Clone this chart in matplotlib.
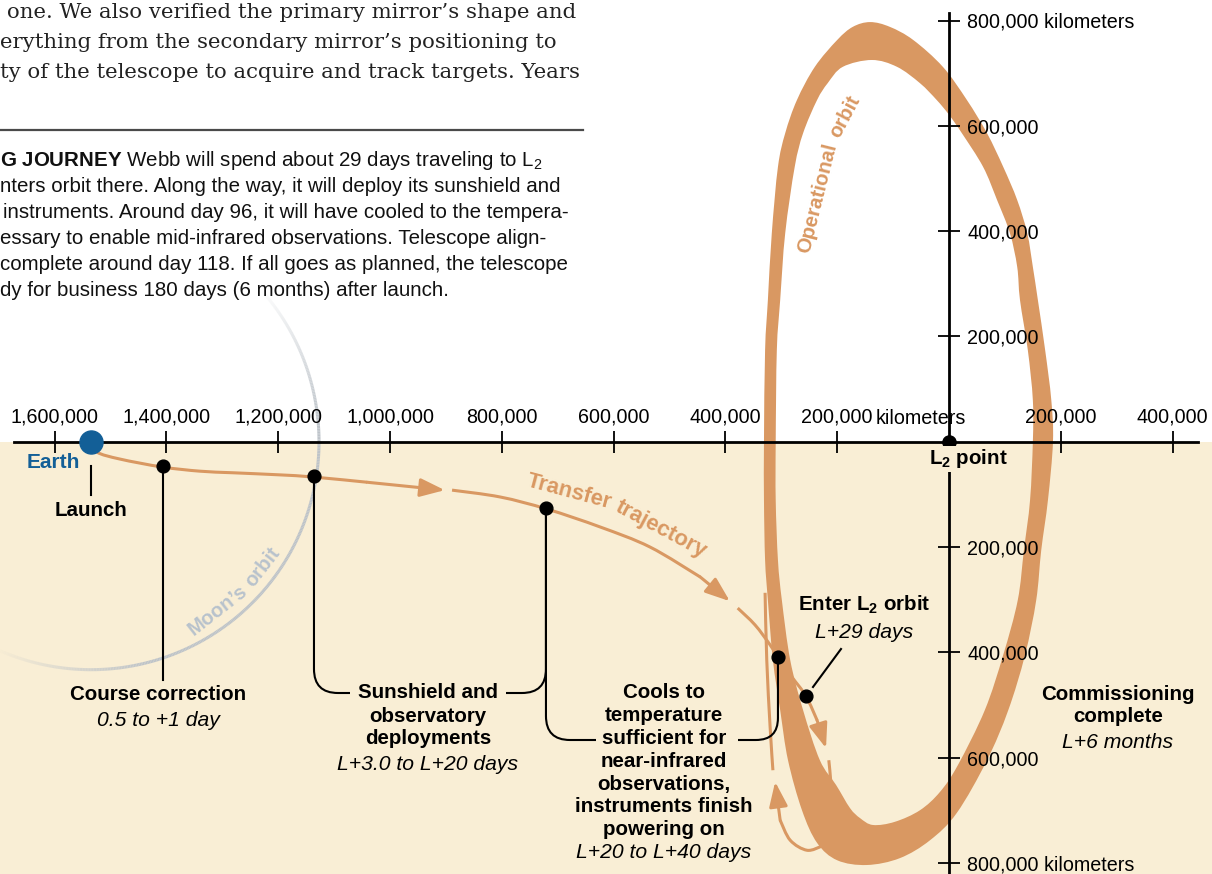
import numpy as np
import matplotlib.pyplot as plt
from matplotlib.path import Path
from matplotlib.patches import PathPatch
from matplotlib.collections import LineCollection
from matplotlib.lines import Line2D

plt.rcParams['font.family'] = ['Liberation Sans', 'DejaVu Sans']
plt.rcParams['mathtext.fontset'] = 'custom'
plt.rcParams['mathtext.rm'] = 'Liberation Sans'
plt.rcParams['mathtext.it'] = 'Liberation Sans:italic'
plt.rcParams['mathtext.bf'] = 'Liberation Sans:bold'
plt.rcParams['mathtext.default'] = 'regular'

# ---- data (thousands of km from L2; x negative towards Earth, y up) ----
x_ticks = [-1600, -1400, -1200, -1000, -800, -600, -400, -200, 200, 400]
x_tick_labels = ['1,600,000', '1,400,000', '1,200,000', '1,000,000', '800,000',
                 '600,000', '400,000', '200,000', '200,000', '400,000']
y_ticks = [800, 600, 400, 200, -200, -400, -600, -800]
y_tick_labels = ['800,000 kilometers', '600,000', '400,000', '200,000',
                 '200,000', '400,000', '600,000', '800,000 kilometers']

earth_x = -1535
moon_orbit_rx = 408
moon_orbit_ry = 433

# operational orbit band (outer and inner edge)
orbit_outer_x = [-141, -106, -64, -11, 32, 68, 97, 122, 140, 150, 159, 172, 183, 186,
                 177, 165, 156, 136, 106, 68, 14, -34, -88, -147, -200, -236, -263,
                 -288, -302, -315, -324, -329, -331, -331, -329, -324, -317, -306,
                 -293, -272, -240, -200, -172]
orbit_outer_y = [797, 788, 763, 712, 649, 586, 522, 459, 396, 332, 269, 174, 79, 0,
                 -111, -206, -301, -405, -510, -605, -705, -757, -791, -804, -795,
                 -762, -700, -605, -510, -415, -301, -225, -111, 0, 174, 269, 396,
                 522, 586, 649, 712, 763, 788]
orbit_inner_x = [-138, -93, -52, -22, 0, 23, 61, 86, 109, 122, 127, 141, 150, 150,
                 145, 134, 123, 97, 64, 16, -16, -52, -97, -136, -159, -177, -202,
                 -231, -261, -284, -299, -306, -310, -310, -308, -302, -293, -276,
                 -261, -236, -217, -190]
orbit_inner_y = [725, 712, 681, 649, 621, 586, 522, 459, 396, 332, 269, 174, 79, 0,
                 -111, -206, -301, -405, -510, -614, -665, -700, -722, -728, -715,
                 -696, -652, -605, -510, -415, -301, -225, -111, 0, 174, 269, 396,
                 522, 586, 649, 681, 712]

# transfer trajectory, in pieces (broken at each arrowhead)
traj1_x = [-1535, -1524, -1483, -1408, -1340, -1281, -1197, -1138, -1041, -902]
traj1_y = [-1, -20, -33, -48, -56, -59, -63, -67, -77, -92]
traj2_x = [-889, -803, -719, -624, -535, -445, -392]
traj2_y = [-92, -105, -128, -162, -200, -257, -303]
traj3_x = [-378, -347, -320, -306, -281, -256, -236, -220]
traj3_y = [-316, -348, -386, -409, -447, -483, -529, -582]
traj4_x = [-215, -211, -209]
traj4_y = [-605, -652, -703]
traj5_x = [-227, -254, -284, -302, -311]
traj5_y = [-768, -776, -757, -719, -646]
traj6_x = [-315, -320, -326, -329]
traj6_y = [-624, -542, -415, -287]

# milestone dots on the trajectory
event_x = [-1406, -1136, -721, -306, -256]
event_y = [-46, -65, -126, -409, -483]

ORANGE = '#d99862'
BEIGE = '#f9eed5'
BLUE = '#135f97'

W, H = 1212, 874
L2_PX, L2_PY = 949, 441.7
SX, SY = 111.8 / 200, 105.3 / 200   # pixels per thousand km


def dp(px, py):
    return (px - L2_PX) / SX, (L2_PY - py) / SY


def fx(px):
    return px / W


def fy(py):
    return 1 - py / H


def smooth(xs, ys, closed=False):
    # smooth bezier path through the given points
    P = np.column_stack([xs, ys]).astype(float)
    n = len(P)
    if closed:
        get = lambda i: P[i % n]
        rng = range(n)
    else:
        get = lambda i: P[min(max(i, 0), n - 1)]
        rng = range(n - 1)
    verts, codes = [P[0]], [Path.MOVETO]
    for i in rng:
        p0, p1, p2, p3 = get(i - 1), get(i), get(i + 1), get(i + 2)
        verts += [p1 + (p2 - p0) / 6, p2 - (p3 - p1) / 6, p2]
        codes += [Path.CURVE4] * 3
    return verts, codes


fig = plt.figure(figsize=(W / 100, H / 100), dpi=100)
ax = fig.add_axes([0, 0, 1, 1])
ax.set_xlim(-L2_PX / SX, (W - L2_PX) / SX)
ax.set_ylim(-(H - L2_PY) / SY, L2_PY / SY)

# beige lower half
ax.axhspan(-(H - L2_PY) / SY, 0, color=BEIGE, zorder=0, lw=0)

# axes through L2
ax.set_axisbelow(False)
for s in ['left', 'bottom']:
    ax.spines[s].set_visible(False)
ax.spines['top'].set_position(('data', 0))
ax.spines['right'].set_position(('data', 0))
ax.spines['top'].set_bounds(dp(14, 0)[0], dp(1198, 0)[0])
ax.spines['right'].set_bounds(dp(0, H)[1], dp(0, 13)[1])
for s in ['top', 'right']:
    ax.spines[s].set_linewidth(2.0)
    ax.spines[s].set_zorder(4)
ax.xaxis.set_ticks_position('top')
ax.yaxis.set_ticks_position('right')
ax.set_xticks(x_ticks, x_tick_labels)
ax.set_yticks(y_ticks, y_tick_labels)
ax.tick_params(axis='both', direction='inout', length=16, width=1.3,
               labelsize=14.2, colors='black')
ax.tick_params(axis='x', pad=3)
ax.tick_params(axis='y', pad=5)
fig.text(fx(876), fy(418), 'kilometers', fontsize=14.2, ha='left', va='center')

# operational orbit band
v_out, c_out = smooth(orbit_outer_x, orbit_outer_y, closed=True)
v_in, c_in = smooth(orbit_inner_x[::-1], orbit_inner_y[::-1], closed=True)
ax.add_patch(PathPatch(Path(v_out + v_in, c_out + c_in), facecolor=ORANGE,
                       edgecolor='none', zorder=1))

# moon's orbit, fading at both ends
deg = np.linspace(42, -114, 400)
t = np.radians(deg)
mx = earth_x + moon_orbit_rx * np.cos(t)
my = moon_orbit_ry * np.sin(t)
pts = np.column_stack([mx, my]).reshape(-1, 1, 2)
segs = np.concatenate([pts[:-1], pts[1:]], axis=1)
alpha = np.interp(deg[:-1], [-114, -75, 5, 42], [0, 1, 1, 0])
cols = np.zeros((len(segs), 4))
cols[:, :3] = [0.74, 0.765, 0.79]
cols[:, 3] = alpha
ax.add_collection(LineCollection(segs, colors=cols, linewidths=2.2, zorder=2))

# transfer trajectory
pieces = [(traj1_x, traj1_y, True), (traj2_x, traj2_y, True), (traj3_x, traj3_y, True),
          (traj4_x, traj4_y, False), (traj5_x, traj5_y, True), (traj6_x, traj6_y, False)]
for xs, ys, arrow in pieces:
    body_x, body_y = (xs[:-1], ys[:-1]) if arrow else (xs, ys)
    v, c = smooth(body_x, body_y)
    ax.add_patch(PathPatch(Path(v, c), facecolor='none', edgecolor=ORANGE, lw=2.2,
                           capstyle='butt', zorder=3))
    if arrow:
        ax.annotate('', xy=(xs[-1], ys[-1]), xytext=(xs[-2], ys[-2]), zorder=3,
                    arrowprops=dict(arrowstyle='-|>,head_length=0.75,head_width=0.28',
                                    color=ORANGE, lw=2.2, shrinkA=0, shrinkB=0,
                                    mutation_scale=20))


# leader lines
def elbow(x, y0_px, bend_px, end_px, r=24):
    px = L2_PX + x * SX
    d = 1 if end_px > px else -1
    v = [(px, y0_px), (px, bend_px - r), (px, bend_px), (px + d * r, bend_px), (end_px, bend_px)]
    v = [dp(a, b) for a, b in v]
    c = [Path.MOVETO, Path.LINETO, Path.CURVE3, Path.CURVE3, Path.LINETO]
    ax.add_patch(PathPatch(Path(v, c), facecolor='none', edgecolor='black', lw=1.5, zorder=4))


ey_px = [L2_PY - y * SY for y in event_y]
ax.plot([event_x[0]] * 2, [event_y[0], dp(0, 680)[1]], color='black', lw=1.5, zorder=4)
elbow(event_x[1], ey_px[1], 693, 350)
elbow(event_x[2], ey_px[2], 693, 506)
elbow(event_x[2], ey_px[2], 740, 596)
elbow(event_x[3], ey_px[3], 740, 738, r=22)
ax.plot(*zip(dp(813, 687), dp(841, 649)), color='black', lw=1.5, zorder=4)
ax.plot(*zip(dp(91, 466), dp(91, 495)), color='black', lw=1.5, zorder=4)

ax.plot(event_x, event_y, 'o', color='black', ms=9.2, zorder=6, lw=0)
ax.plot([0], [0], 'o', color='black', ms=9.5, zorder=6)
ax.plot([earth_x], [0], 'o', color=BLUE, ms=16.6, zorder=6)

# ---- text ----
serif_lines = [(7, 18, 'one. We also verified the primary mirror\u2019s shape and'),
               (0, 48, 'erything from the secondary mirror\u2019s positioning to'),
               (0, 78, 'ty of the telescope to acquire and track targets. Years')]
for x, y, s in serif_lines:
    fig.text(fx(x), fy(y), s, family='DejaVu Serif', fontsize=15.3,
             ha='left', va='baseline', color='#222222')
fig.add_artist(Line2D([0, fx(583)], [fy(130)] * 2, color='#4a4a4a', lw=1.6))

caption = [r'$\mathbf{G\ JOURNEY}$ Webb will spend about 29 days traveling to L$_2$',
           'nters orbit there. Along the way, it will deploy its sunshield and',
           'instruments. Around day 96, it will have cooled to the tempera-',
           'essary to enable mid-infrared observations. Telescope align-',
           'complete around day 118. If all goes as planned, the telescope',
           'dy for business 180 days (6 months) after launch.']
for i, s in enumerate(caption):
    fig.text(fx(0 if i != 2 else 3), fy(166 + 26 * i), s, fontsize=14.8,
             ha='left', va='baseline', color='#111111')


def block(x, y, lines, gap=23):
    for k, (s, style) in enumerate(lines):
        fig.text(fx(x), fy(y + k * gap), s, fontsize=15.2 if style == 'italic' else 14.8,
                 fontweight='bold' if style == 'bold' else 'normal',
                 fontstyle='italic' if style == 'italic' else 'normal',
                 ha='center', va='center', color='black', zorder=5)


fig.text(fx(53), fy(463), 'Earth', fontsize=15, fontweight='bold', color=BLUE,
         ha='center', va='center')
block(91, 511, [('Launch', 'bold')])
block(158, 694, [('Course correction', 'bold'), ('0.5 to +1 day', 'italic')], gap=27)
block(428, 693, [('Sunshield and', 'bold'), ('observatory', 'bold'),
                 ('deployments', 'bold')])
block(428, 765, [('L+3.0 to L+20 days', 'italic')])
block(664, 693, [('Cools to', 'bold'), ('temperature', 'bold'), ('sufficient for', 'bold'),
                 ('near-infrared', 'bold'), ('observations,', 'bold'),
                 ('instruments finish', 'bold'), ('powering on', 'bold'),
                 ('L+20 to L+40 days', 'italic')], gap=22.8)
block(864, 605, [(r'Enter L$_2$ orbit', 'bold'), ('L+29 days', 'italic')], gap=28)
block(1118, 695, [('Commissioning', 'bold'), ('complete', 'bold')], gap=22)
block(1118, 743, [('L+6 months', 'italic')])
fig.text(fx(968), fy(459), r'L$_2$ point', fontsize=14.8, fontweight='bold',
         ha='center', va='center', zorder=5,
         bbox=dict(facecolor=BEIGE, edgecolor='none', pad=1))

# curved labels, one rotated word at a time
for x, y, s, rot in [(569, 492, 'Transfer', -15), (661, 529, 'trajectory', -28)]:
    fig.text(fx(x), fy(y), s, fontsize=15.8, fontweight='bold', color=ORANGE,
             rotation=rot, ha='center', va='center', rotation_mode='anchor')
for x, y, s, rot in [(818, 198, 'Operational', 76), (845, 117, 'orbit', 62)]:
    fig.text(fx(x), fy(y), s, fontsize=14.6, fontweight='bold', color=ORANGE,
             rotation=rot, ha='center', va='center', rotation_mode='anchor')
for x, y, s, rot in [(218, 610, 'Moon\u2019s', 38), (263, 567, 'orbit', 52)]:
    fig.text(fx(x), fy(y), s, fontsize=14.5, fontweight='bold', color='#b8c2cc',
             rotation=rot, ha='center', va='center', rotation_mode='anchor')

fig.savefig('out.png', dpi=100)
